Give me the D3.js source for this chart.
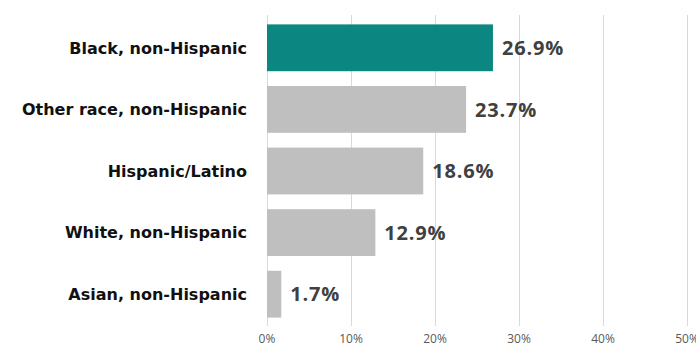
<!DOCTYPE html>
<meta charset="utf-8">
<script src="https://d3js.org/d3.v7.min.js"></script>
<style>
  body { margin: 0; background: #fff; }
</style>
<div id="chart"></div>
<script>

// data
var groups = ["Black, non-Hispanic", "Other race, non-Hispanic", "Hispanic/Latino", "White, non-Hispanic", "Asian, non-Hispanic"];
var values = [26.9, 23.7, 18.6, 12.9, 1.7];
var ticks = [0, 10, 20, 30, 40, 50];

var width = 696, height = 347;

var svg = d3.select("#chart")
  .append("svg")
    .attr("width", width)
    .attr("height", height);

var x = d3.scaleLinear()
  .domain([0, 50])
  .range([267, 687]);

var y = d3.scaleBand()
  .domain(groups)
  .range([17, 325])
  .paddingInner(0.24)
  .paddingOuter(0.12);

// gridlines
svg.append("g")
  .selectAll("line")
  .data(ticks)
  .enter()
  .append("line")
    .attr("x1", function(d) { return x(d) + 0.5 })
    .attr("x2", function(d) { return x(d) + 0.5 })
    .attr("y1", 15)
    .attr("y2", 326)
    .attr("stroke", "#d9d9d9")
    .attr("stroke-width", 1);

// tick labels
svg.append("g")
  .selectAll("text")
  .data(ticks)
  .enter()
  .append("text")
    .attr("x", function(d) { return x(d) })
    .attr("y", 343)
    .attr("text-anchor", "middle")
    .style("font-family", "'Open Sans', sans-serif")
    .style("font-size", "12px")
    .style("fill", "#595959")
    .text(function(d) { return d + "%" });

// bars
svg.append("g")
  .selectAll("rect")
  .data(groups)
  .enter()
  .append("rect")
    .attr("x", x(0))
    .attr("y", function(d) { return y(d) })
    .attr("width", function(d, i) { return x(values[i]) - x(0) })
    .attr("height", y.bandwidth())
    .attr("fill", function(d, i) { return i == 0 ? "#0b8680" : "#bfbfbf" });

// value labels
svg.append("g")
  .selectAll("text")
  .data(groups)
  .enter()
  .append("text")
    .attr("x", function(d, i) { return x(values[i]) + 9 })
    .attr("y", function(d) { return y(d) + y.bandwidth() / 2 })
    .attr("dy", "0.36em")
    .style("font-family", "'Open Sans', sans-serif")
    .style("font-weight", "bold")
    .style("font-size", "20px")
    .style("letter-spacing", "0.8px")
    .style("fill", "#404040")
    .text(function(d, i) { return values[i].toFixed(1) + "%" });

// category labels
svg.append("g")
  .selectAll("text")
  .data(groups)
  .enter()
  .append("text")
    .attr("x", 247)
    .attr("y", function(d) { return y(d) + y.bandwidth() / 2 })
    .attr("dy", "0.36em")
    .attr("text-anchor", "end")
    .style("font-family", "'DejaVu Sans', sans-serif")
    .style("font-weight", "bold")
    .style("font-size", "16px")
    .style("fill", "#111")
    .text(function(d) { return d });

</script>
